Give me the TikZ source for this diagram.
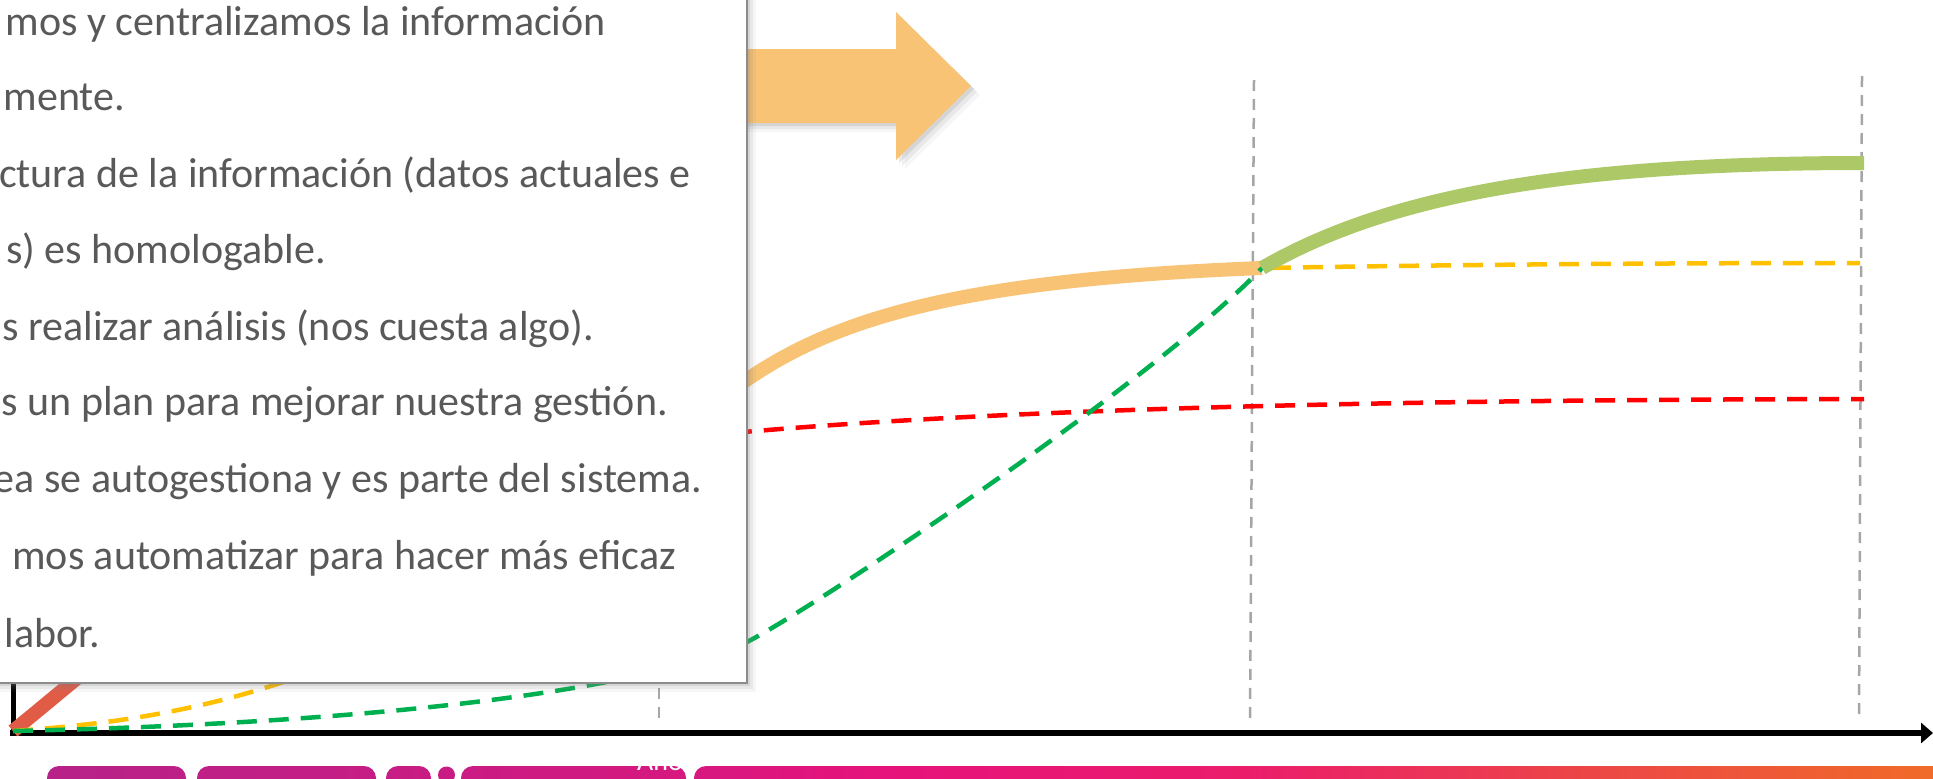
\documentclass[tikz,border=0pt]{standalone}
\usepackage{fontspec}
\setmainfont{Carlito}
\usetikzlibrary{arrows.meta,shadows}

\definecolor{textgray}{HTML}{595959}
\definecolor{boxline}{HTML}{8C8C8C}
\definecolor{guidegray}{HTML}{A6A6A6}
\definecolor{arroworange}{HTML}{F8C374}
\definecolor{startred}{HTML}{E05C47}
\definecolor{dashred}{HTML}{FF0000}
\definecolor{dashyellow}{HTML}{FFC000}
\definecolor{dashgreen}{HTML}{00B050}
\definecolor{curvegreen}{HTML}{ADC866}
\definecolor{barpurple}{HTML}{B52389}
\definecolor{barmagenta}{HTML}{CF1A81}
\definecolor{barpink}{HTML}{E6137B}
\definecolor{barrose}{HTML}{EB1C6C}
\definecolor{barred}{HTML}{EC4647}
\definecolor{barorange}{HTML}{F06B28}

% bar colours, path spans 25bp..75bp
\pgfdeclarehorizontalshading{timebar}{100bp}{color(0bp)=(barpurple);
  color(25bp)=(barpurple); color(40bp)=(barmagenta); color(48bp)=(barpink);
  color(57bp)=(barrose); color(66bp)=(barred); color(75bp)=(barorange);
  color(100bp)=(barorange)}

\begin{document}
\begin{tikzpicture}[x=1pt,y=-1pt,
    guide/.style={draw=guidegray,line width=2.5pt,dash pattern=on 11pt off 8pt},
    trend/.style={line width=4.5pt,dash pattern=on 20pt off 12pt},
    phase/.style={line width=14pt},
    itemtext/.style={anchor=base east,text=textgray,inner sep=0pt,
      font=\fontsize{42}{50}\selectfont},
    softshadow/.style={
      drop shadow={shadow xshift=3pt,shadow yshift=-3pt,opacity=.18},
      drop shadow={shadow xshift=6pt,shadow yshift=-6pt,opacity=.12},
      drop shadow={shadow xshift=9pt,shadow yshift=-9pt,opacity=.07}}]
  \useasboundingbox (0,0) rectangle (1933,779);
  \clip (0,0) rectangle (1933,779);

  \coordinate (O) at (13,731);
  \coordinate (J) at (1262,268);

  % stage limits
  \draw[guide] (659,80) -- (659,725);
  \draw[guide] (1254,80) -- (1250,724);
  \draw[guide] (1862,76) -- (1859,720);

  % axes
  \draw[line width=5pt] (13,500) -- (13,733);
  \draw[line width=6pt,-{Triangle[length=12pt,width=20pt]}] (10,733) -- (1933,733);

  % curves
  \draw[startred,phase] (O) .. controls (150,620) and (300,470) .. (640,440);
  \draw[dashred,trend] (700,436) .. controls (950,412) and (1300,400) .. (1864,399);
  \draw[dashyellow,trend] (O) .. controls (200,718) and (420,680) .. (690,425)
    .. controls (790,335) and (900,282) .. (J)
    .. controls (1500,264) and (1700,263) .. (1860,263);
  \draw[arroworange,phase] (690,425) .. controls (790,335) and (900,282) .. (J);
  \draw[dashgreen,trend] (O) .. controls (300,725) and (620,700) .. (747,642)
    .. controls (810,610) and (1150,385) .. (J);
  \draw[curvegreen,phase] (J) .. controls (1380,200) and (1550,163) .. (1864,163);

  % big arrow
  \fill[arroworange,softshadow] (700,49) -- (896,49) -- (896,12) -- (971,86)
    -- (896,160) -- (896,123) -- (700,123) -- cycle;

  % text box
  \draw[boxline,line width=1.5pt,fill=white,softshadow] (-20,-20) rectangle (747,683);
  \node[itemtext] (l1) at (606,35) {mos y centralizamos la información};
  \node[itemtext] (l2) at (125,110) {mente.};
  \node[itemtext] (l3) at (691,187) {ctura de la información (datos actuales e};
  \node[itemtext] (l4) at (326,263) {s) es homologable.};
  \node[itemtext] (l5) at (594,340) {s realizar análisis (nos cuesta algo).};
  \node[itemtext] (l6) at (668,415) {s un plan para mejorar nuestra gestión.};
  \node[itemtext] (l7) at (702,492) {ea se autogestiona y es parte del sistema.};
  \node[itemtext] (l8) at (676,569) {mos automatizar para hacer más eficaz};
  \node[itemtext] (l9) at (100,647) {labor.};

  % time bar
  \begin{scope}
    \clip[rounded corners=12pt] (47,766) rectangle (186,792) (197,766) rectangle (376,792)
      (386,766) rectangle (431,792) (461,766) rectangle (686,792)
      (694,766) rectangle (1980,792) (446.5,775) circle (8.5pt);
    \shade[shading=timebar] (0,760) rectangle (1933,800);
  \end{scope}
  \node[text=white,anchor=base,font=\fontsize{28}{30}\selectfont] (year) at (660,770) {Año};
\end{tikzpicture}
\end{document}
